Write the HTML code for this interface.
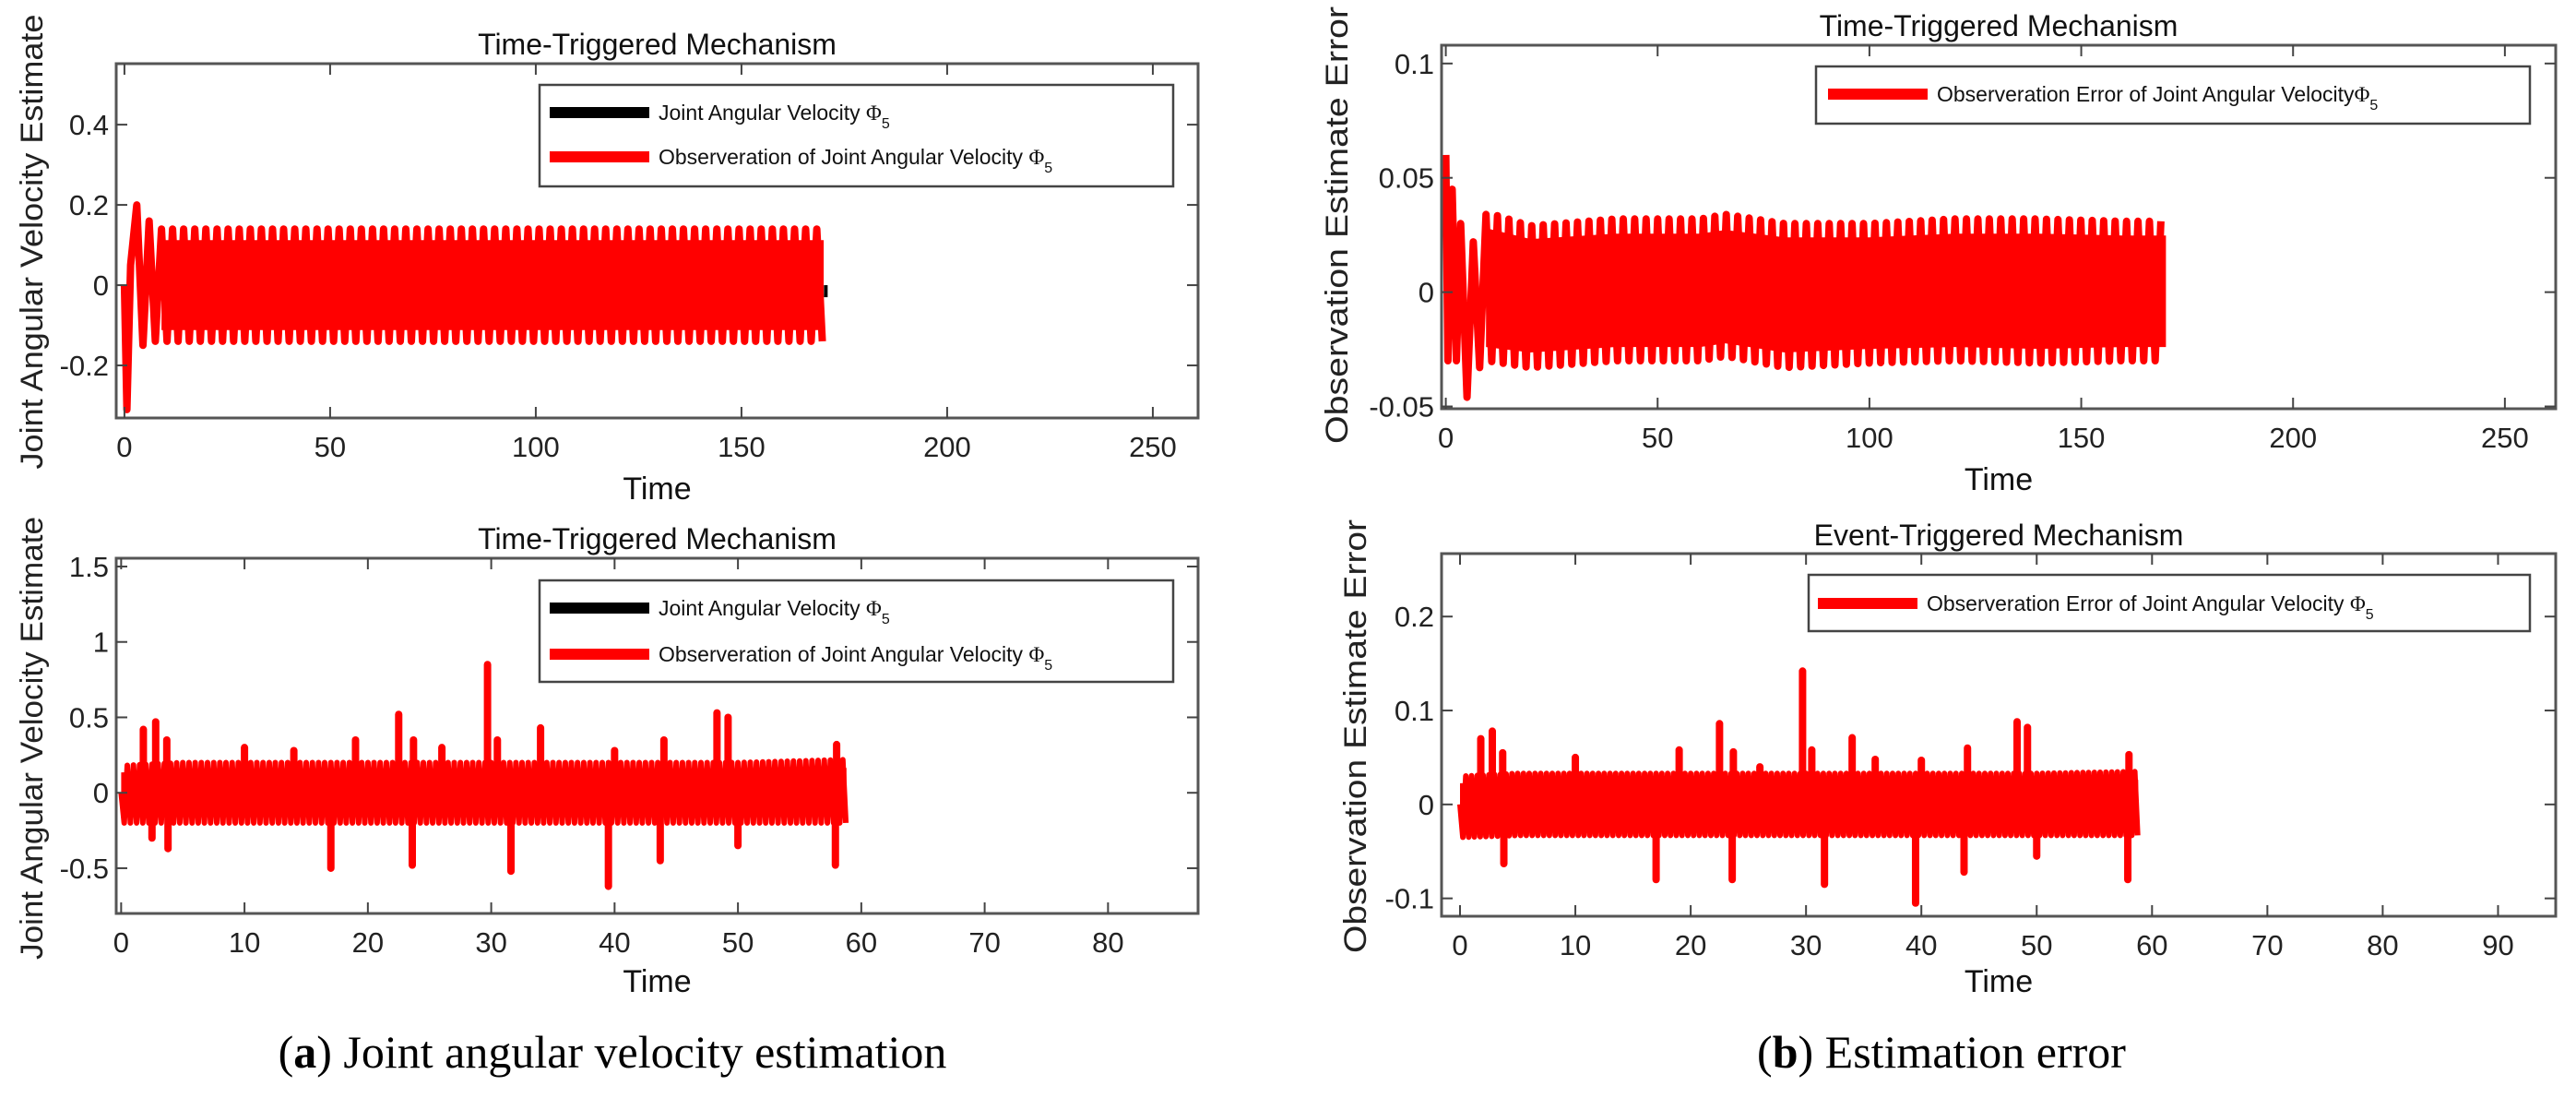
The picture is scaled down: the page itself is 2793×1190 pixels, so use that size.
<!DOCTYPE html>
<html><head><meta charset="utf-8"><style>
html,body{margin:0;padding:0;background:#fff;}
svg{display:block;font-family:"Liberation Sans",sans-serif;}
</style></head><body>
<svg id="fig" width="2793" height="1190" viewBox="0 0 2793 1190" xmlns="http://www.w3.org/2000/svg">
<rect x="0" y="0" width="2793" height="1190" fill="#fff"/>
<text x="664" y="1157" font-family="Liberation Serif,serif" font-size="50" text-anchor="middle">(<tspan font-weight="bold">a</tspan>) Joint angular velocity estimation</text>
<text x="2105" y="1157" font-family="Liberation Serif,serif" font-size="50" text-anchor="middle">(<tspan font-weight="bold">b</tspan>) Estimation error</text>
</svg>
<script>
// ---------- DATA ----------
const tlTransientT = [0, 0.6, 1.5, 3, 4.5, 6, 7.5, 9];
const tlTransientV = [0, -0.31, 0.05, 0.2, -0.15, 0.16, -0.14, 0.14];
const tlEnvTimes = [9, 20, 40, 60, 80, 100, 120, 140, 160, 170];
const tlEnvUpper = [0.14, 0.14, 0.14, 0.14, 0.14, 0.14, 0.14, 0.14, 0.14, 0.14];
const tlEnvLower = [-0.14, -0.14, -0.14, -0.14, -0.14, -0.14, -0.14, -0.14, -0.14, -0.14];
const tlBlackT = [1.2, 2, 5, 6];
const tlBlackV = [0.04, 0.05, -0.09, -0.1];
const tlXTicks = [0, 50, 100, 150, 200, 250];
const tlYTicks = [-0.2, 0, 0.2, 0.4];
const tlYLabels = ["-0.2", "0", "0.2", "0.4"];

const trTransientT = [0, 0.5, 1.5, 2.5, 3.5, 5, 6.5, 8, 9.5];
const trTransientV = [0.06, -0.03, 0.045, -0.03, 0.03, -0.046, 0.022, -0.033, 0.034];
const trEnvTimes = [9.5, 20, 40, 60, 66, 80, 100, 120, 140, 160, 170];
const trEnvUpper = [0.035, 0.029, 0.032, 0.032, 0.034, 0.03, 0.03, 0.032, 0.032, 0.031, 0.031];
const trEnvLower = [-0.03, -0.033, -0.03, -0.03, -0.028, -0.033, -0.031, -0.03, -0.031, -0.03, -0.03];
const trXTicks = [0, 50, 100, 150, 200, 250];
const trYTicks = [-0.05, 0, 0.05, 0.1];
const trYLabels = ["-0.05", "0", "0.05", "0.1"];

const blBandTimes = [0, 5, 10, 20, 30, 40, 50, 58.8];
const blBandUpper = [0.18, 0.2, 0.2, 0.2, 0.2, 0.2, 0.2, 0.22];
const blBandLower = [-0.2, -0.2, -0.2, -0.2, -0.2, -0.2, -0.2, -0.2];
const blSpikeT = [1.8, 2.8, 3.7, 2.5, 3.8, 10, 14, 17, 19, 22.5, 23.7, 23.6, 26, 29.7, 30.5, 31.6, 34, 39.5, 40, 44, 43.7, 48.3, 49.2, 50, 58, 57.9];
const blSpikeV = [0.42, 0.47, 0.35, -0.3, -0.37, 0.3, 0.28, -0.5, 0.35, 0.52, 0.35, -0.48, 0.3, 0.85, 0.35, -0.52, 0.43, -0.62, 0.28, 0.35, -0.45, 0.53, 0.5, -0.35, 0.32, -0.48];
const blXTicks = [0, 10, 20, 30, 40, 50, 60, 70, 80];
const blYTicks = [-0.5, 0, 0.5, 1, 1.5];
const blYLabels = ["-0.5", "0", "0.5", "1", "1.5"];

const brBandTimes = [0, 5, 10, 20, 30, 40, 50, 58.8];
const brBandUpper = [0.03, 0.033, 0.033, 0.033, 0.033, 0.033, 0.033, 0.035];
const brBandLower = [-0.035, -0.033, -0.033, -0.033, -0.033, -0.033, -0.033, -0.033];
const brSpikeT = [1.8, 2.8, 3.7, 3.8, 10, 17, 19, 22.5, 23.7, 23.6, 26, 29.7, 30.5, 31.6, 34, 36, 39.5, 40, 44, 43.7, 48.3, 49.2, 50, 58, 57.9];
const brSpikeV = [0.07, 0.078, 0.055, -0.063, 0.05, -0.08, 0.058, 0.086, 0.056, -0.08, 0.04, 0.142, 0.058, -0.085, 0.071, 0.048, -0.105, 0.047, 0.06, -0.072, 0.088, 0.082, -0.055, 0.053, -0.08];
const brXTicks = [0, 10, 20, 30, 40, 50, 60, 70, 80, 90];
const brYTicks = [-0.1, 0, 0.1, 0.2];
const brYLabels = ["-0.1", "0", "0.1", "0.2"];

// ---------- DRAWING ----------
const NS = "http://www.w3.org/2000/svg";
const svg = document.getElementById("fig");
function mk(tag, attrs, parent) {
  const e = document.createElementNS(NS, tag);
  for (const k in attrs) e.setAttribute(k, attrs[k]);
  (parent || svg).appendChild(e);
  return e;
}
function interp(ts, vs, t) {
  if (t <= ts[0]) return vs[0];
  for (let i = 1; i < ts.length; i++) if (t <= ts[i]) {
    const f = (t - ts[i-1]) / (ts[i] - ts[i-1]);
    return vs[i-1] + f * (vs[i] - vs[i-1]);
  }
  return vs[vs.length - 1];
}
function axes(p) {
  const g = mk("g", {});
  
  
  p.sx = v => p.L + (v - p.x0) / (p.x1 - p.x0) * (p.R - p.L);
  p.sy = v => p.B - (v - p.y0) / (p.y1 - p.y0) * (p.B - p.T);
  p.g = g;
  return p;
}
function frame(p) {
  const g = p.g;
  const box = mk("rect", {x: p.L, y: p.T, width: p.R - p.L, height: p.B - p.T, fill: "none", stroke: "#555", "stroke-width": 3}, g);
  
  
  p.xt.forEach(v => {
    const x = p.sx(v);
    const t1 = mk("line", {x1: x, x2: x, y1: p.B, y2: p.B - 12, stroke: "#444", "stroke-width": 2}, g);
    
    
    mk("line", {x1: x, x2: x, y1: p.T, y2: p.T + 12, stroke: "#444", "stroke-width": 2}, g);
    const tl = mk("text", {x: x, y: p.B + 42, "font-size": 31, "text-anchor": "middle", fill: "#222"}, g);
    
    
    tl.textContent = String(v);
  });
  p.yt.forEach((v, i) => {
    const y = p.sy(v);
    const t1 = mk("line", {x1: p.L, x2: p.L + 12, y1: y, y2: y, stroke: "#444", "stroke-width": 2}, g);
    
    
    mk("line", {x1: p.R, x2: p.R - 12, y1: y, y2: y, stroke: "#444", "stroke-width": 2}, g);
    const tl = mk("text", {x: p.L - 8, y: y + 11, "font-size": 31, "text-anchor": "end", fill: "#222"}, g);
    
    
    tl.textContent = p.yl[i];
  });
  const ti = mk("text", {x: (p.L + p.R) / 2, y: p.titleY, "font-size": 32, "text-anchor": "middle", fill: "#111"}, g);
  
  
  ti.textContent = p.title;
  const xl = mk("text", {x: (p.L + p.R) / 2, y: p.xlabY, "font-size": 34, "text-anchor": "middle", fill: "#111"}, g);
  
  
  xl.textContent = "Time";
  const yl = mk("text", {x: 0, y: 0, "font-size": 34, "text-anchor": "middle", fill: "#222", textLength: p.ylabLen, lengthAdjust: "spacingAndGlyphs", transform: `translate(${p.ylabX},${p.ylabY}) rotate(-90)`}, g);
  
  
  yl.textContent = p.ylab;
}
function legend(p, items, box) {
  const g = mk("g", {}, p.g);
  
  
  mk("rect", {x: box[0], y: box[1], width: box[2] - box[0], height: box[3] - box[1], fill: "#fff", stroke: "#444", "stroke-width": 2.5}, g);
  items.forEach(it => {
    const ln = mk("line", {x1: it.x, x2: it.x + 108, y1: it.y, y2: it.y, stroke: it.c, "stroke-width": 12}, g);
    
    
    const t = mk("text", {x: it.x + 118, y: it.y + 8, "font-size": 23, fill: "#111"}, g);
    
    
    t.innerHTML = it.t + '<tspan font-family="Liberation Serif,serif">Φ</tspan><tspan font-size="16" dy="9">5</tspan>';
  });
}
function clip(p) {
  const id = "c" + p.name;
  const cp = mk("clipPath", {id: id}, p.g);
  mk("rect", {x: p.L, y: p.T, width: p.R - p.L, height: p.B - p.T}, cp);
  return `url(#${id})`;
}
function oscPath(p, trT, trV, envT, up, lo, step) {
  const pts = [];
  for (let i = 0; i < trT.length; i++) pts.push([trT[i], trV[i]]);
  let t = envT[0] + step, hi = false;
  while (t <= envT[envT.length - 1]) {
    pts.push([t, hi ? interp(envT, up, t) : interp(envT, lo, t)]);
    hi = !hi; t += step;
  }
  return "M" + pts.map(q => p.sx(q[0]).toFixed(1) + "," + p.sy(q[1]).toFixed(1)).join("L");
}
function bandFill(p, envT, up, lo, cp, k) {
  const top = envT.map((t, i) => p.sx(t).toFixed(1) + "," + p.sy(up[i] * k).toFixed(1));
  const bot = envT.slice().reverse().map((t, j) => {
    const i = envT.length - 1 - j;
    return p.sx(t).toFixed(1) + "," + p.sy(lo[i] * k).toFixed(1);
  });
  const f = mk("path", {d: "M" + top.join("L") + "L" + bot.join("L") + "Z", fill: "#ff0000", "clip-path": cp}, p.g);
  
  
}

// Panel TL
const tl = axes({name: "panel-top-left", L: 126, R: 1299, T: 69, B: 453, x0: -2, x1: 261, y0: -0.331, y1: 0.552,
  xt: tlXTicks, yt: tlYTicks, yl: tlYLabels, title: "Time-Triggered Mechanism", titleY: 59, xlabY: 541,
  ylab: "Joint Angular Velocity Estimate", ylabX: 46, ylabY: 262, ylabLen: 493});
{
  const cp = clip(tl);
  const k = mk("path", {d: "M" + tlBlackT.map((t, i) => tl.sx(t) + "," + tl.sy(tlBlackV[i])).join("M"), fill: "none", stroke: "#000", "stroke-width": 12, "stroke-linecap": "round", "clip-path": cp}, tl.g);
  
  
  bandFill(tl, tlEnvTimes, tlEnvUpper, tlEnvLower, cp, 0.8);
  const r = mk("path", {d: oscPath(tl, tlTransientT, tlTransientV, tlEnvTimes, tlEnvUpper, tlEnvLower, 1.35), fill: "none", stroke: "#ff0000", "stroke-width": 8, "stroke-linejoin": "round", "clip-path": cp}, tl.g);
  
  
  const endx = tl.sx(170.5);
  mk("line", {x1: endx, x2: endx, y1: tl.sy(0.0), y2: tl.sy(-0.03), stroke: "#000", "stroke-width": 4}, tl.g);
}
frame(tl);
legend(tl, [{x: 596, y: 122, c: "#000", t: "Joint Angular Velocity "}, {x: 596, y: 170, c: "#ff0000", t: "Observeration of Joint Angular Velocity "}], [585, 92, 1272, 202]);

// Panel TR
const tr = axes({name: "panel-top-right", L: 1563, R: 2771, T: 49, B: 443, x0: -1, x1: 262, y0: -0.051, y1: 0.108,
  xt: trXTicks, yt: trYTicks, yl: trYLabels, title: "Time-Triggered Mechanism", titleY: 39, xlabY: 531,
  ylab: "Observation Estimate Error", ylabX: 1461, ylabY: 244, ylabLen: 474});
{
  const cp = clip(tr);
  bandFill(tr, trEnvTimes, trEnvUpper, trEnvLower, cp, 0.8);
  const r = mk("path", {d: oscPath(tr, trTransientT, trTransientV, trEnvTimes, trEnvUpper, trEnvLower, 1.35), fill: "none", stroke: "#ff0000", "stroke-width": 8, "stroke-linejoin": "round", "clip-path": cp}, tr.g);
  
  
}
frame(tr);
legend(tr, [{x: 1982, y: 102, c: "#ff0000", t: "Observeration Error of Joint Angular Velocity"}], [1969, 72, 2743, 134]);

function spiky(p, bT, bU, bL, sT, sV, step) {
  const cp = clip(p);
  bandFill(p, bT, bU, bL, cp, 0.75);
  const r = mk("path", {d: oscPath(p, [0], [0], bT, bU, bL, step), fill: "none", stroke: "#ff0000", "stroke-width": 6, "stroke-linejoin": "round", "clip-path": cp}, p.g);
  
  
  sT.forEach((t, i) => {
    const s = mk("line", {x1: p.sx(t), x2: p.sx(t), y1: p.sy(0), y2: p.sy(sV[i]), stroke: "#ff0000", "stroke-width": 8, "stroke-linecap": "round"}, p.g);
    
    
  });
}
const bl = axes({name: "panel-bottom-left", L: 126, R: 1299, T: 605, B: 990, x0: -0.4, x1: 87.3, y0: -0.8, y1: 1.555,
  xt: blXTicks, yt: blYTicks, yl: blYLabels, title: "Time-Triggered Mechanism", titleY: 595, xlabY: 1075,
  ylab: "Joint Angular Velocity Estimate", ylabX: 46, ylabY: 800, ylabLen: 480});
spiky(bl, blBandTimes, blBandUpper, blBandLower, blSpikeT, blSpikeV, 0.25);
frame(bl);
legend(bl, [{x: 596, y: 659, c: "#000", t: "Joint Angular Velocity "}, {x: 596, y: 709, c: "#ff0000", t: "Observeration of Joint Angular Velocity "}], [585, 629, 1272, 739]);

const br = axes({name: "panel-bottom-right", L: 1563, R: 2771, T: 600, B: 993, x0: -1.6, x1: 95, y0: -0.119, y1: 0.267,
  xt: brXTicks, yt: brYTicks, yl: brYLabels, title: "Event-Triggered Mechanism", titleY: 591, xlabY: 1075,
  ylab: "Observation Estimate Error", ylabX: 1481, ylabY: 798, ylabLen: 470});
spiky(br, brBandTimes, brBandUpper, brBandLower, brSpikeT, brSpikeV, 0.25);
frame(br);
legend(br, [{x: 1971, y: 654, c: "#ff0000", t: "Observeration Error of Joint Angular Velocity "}], [1961, 623, 2743, 684]);
</script>
</body></html>
